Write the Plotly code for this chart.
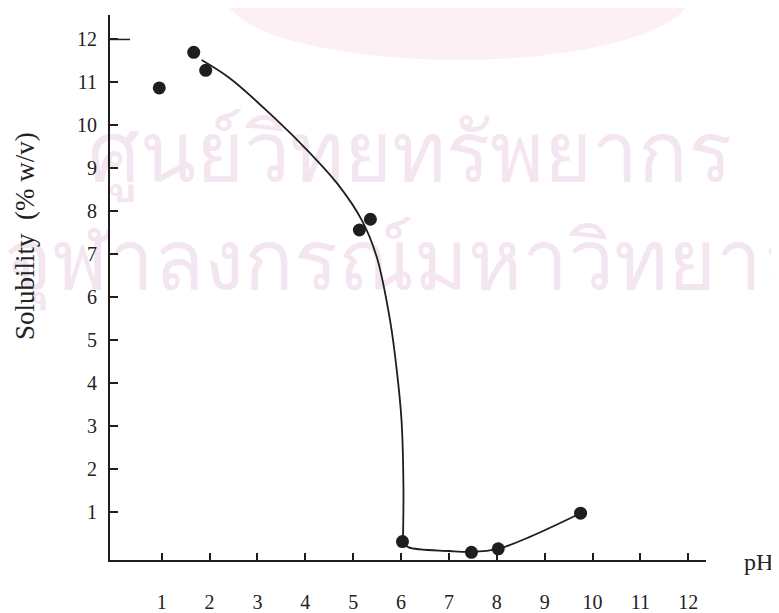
import plotly.graph_objects as go

# measured points
ph_points = [0.95, 1.67, 1.92, 5.13, 5.36, 6.03, 7.47, 8.03, 9.75]
sol_points = [10.87, 11.70, 11.28, 7.56, 7.81, 0.30, 0.05, 0.13, 0.96]

# hand-drawn fitted curve (two strokes), vertices
steep_ph = [1.835, 2.43, 3.33, 4.10, 4.67, 5.18, 5.49, 5.77, 5.91, 6.01, 6.05, 6.04]
steep_sol = [11.52, 11.09, 10.20, 9.35, 8.64, 7.79, 6.94, 5.46, 4.30, 3.13, 1.58, 0.30]
flat_ph = [6.04, 6.15, 7.02, 7.47, 8.03, 8.69, 9.75]
flat_sol = [0.30, 0.17, 0.08, 0.06, 0.13, 0.41, 0.96]

x_ticks = list(range(1, 13))
y_ticks = list(range(1, 13))

# background watermark of the scanned page
watermark_text = ["ศูนย์วิทยทรัพยากร", "จุฬาลงกรณ์มหาวิทยาลัย"]

serif = "Liberation Serif"
ink = "#1e1e1e"
wm_color = "#f4e6f0"
wm_font = "DejaVu Sans Condensed, DejaVu Sans, sans-serif"

# page body has an 8px margin, so the figure is drawn 8px smaller and shifted
OFF = 8
W, H = 779 - OFF, 613 - OFF
PL, PR, PT, PB = 110, 706, 15, 560          # plot area in reference pixels
PW, PH = PR - PL, PB - PT
X_RANGE = [-0.079, 12.37]
Y_RANGE = [-0.13, 12.57]


def px(xr):
    return (xr - PL) / PW


def py(yr):
    return (PB - yr) / PH


def dx(xr):
    return X_RANGE[0] + px(xr) * (X_RANGE[1] - X_RANGE[0])


def dy(yr):
    return Y_RANGE[0] + py(yr) * (Y_RANGE[1] - Y_RANGE[0])


fig = go.Figure()
# watermark, drawn beneath axes labels and data
fig.add_trace(go.Scatter(x=[dx(410), dx(432)], y=[dy(160), dy(268)], mode="text",
                         text=watermark_text, textposition="middle center", cliponaxis=False,
                         textfont=dict(size=82, color=wm_color, family=wm_font),
                         hoverinfo="skip", showlegend=False))
for cx, cy in ((steep_ph, steep_sol), (flat_ph, flat_sol)):
    fig.add_trace(go.Scatter(x=cx, y=cy, mode="lines",
                             line=dict(color=ink, width=1.8, shape="spline", smoothing=1.0),
                             hoverinfo="skip", showlegend=False))
fig.add_trace(go.Scatter(x=ph_points, y=sol_points, mode="markers",
                         marker=dict(color=ink, size=13), showlegend=False))

fig.update_layout(
    width=W, height=H,
    margin=dict(l=PL - OFF, r=779 - PR, t=PT - OFF, b=613 - PB),
    paper_bgcolor="white", plot_bgcolor="rgba(0,0,0,0)",
    font=dict(family=serif, color="#222", size=20),
    xaxis=dict(range=X_RANGE, tickvals=x_ticks, ticktext=[str(v) for v in x_ticks],
               ticks="inside", ticklen=7, tickwidth=1.5, tickcolor=ink,
               showline=True, linecolor=ink, linewidth=2, showgrid=False, zeroline=False,
               automargin=False, ticklabelstandoff=23,
               tickfont=dict(size=20, family=serif, color="#222")),
    yaxis=dict(range=Y_RANGE, tickvals=y_ticks, ticktext=[str(v) for v in y_ticks],
               ticks="inside", ticklen=8, tickwidth=1.5, tickcolor=ink,
               showline=True, linecolor=ink, linewidth=2, showgrid=False, zeroline=False,
               automargin=False, ticklabelstandoff=7,
               tickfont=dict(size=20, family=serif, color="#222")),
    shapes=[
        dict(type="circle", xref="paper", yref="paper", layer="below",
             x0=px(225), x1=px(690), y0=py(60), y1=py(-70),
             fillcolor="#fcf0f4", line=dict(width=0)),
        dict(type="line", xref="paper", yref="y", x0=0, x1=px(130), y0=12, y1=12,
             line=dict(color=ink, width=1.5)),
    ],
    annotations=[
        dict(text="Solubility  (% w/v)", xref="paper", yref="paper",
             x=px(25), y=py(236), showarrow=False, textangle=-90,
             font=dict(size=27, family=serif, color="#222"),
             xanchor="center", yanchor="middle"),
        dict(text="pH", xref="paper", yref="paper",
             x=px(758), y=py(562), showarrow=False,
             font=dict(size=24, family=serif, color="#222"),
             xanchor="center", yanchor="middle"),
    ],
)

fig.write_html("out.html")
